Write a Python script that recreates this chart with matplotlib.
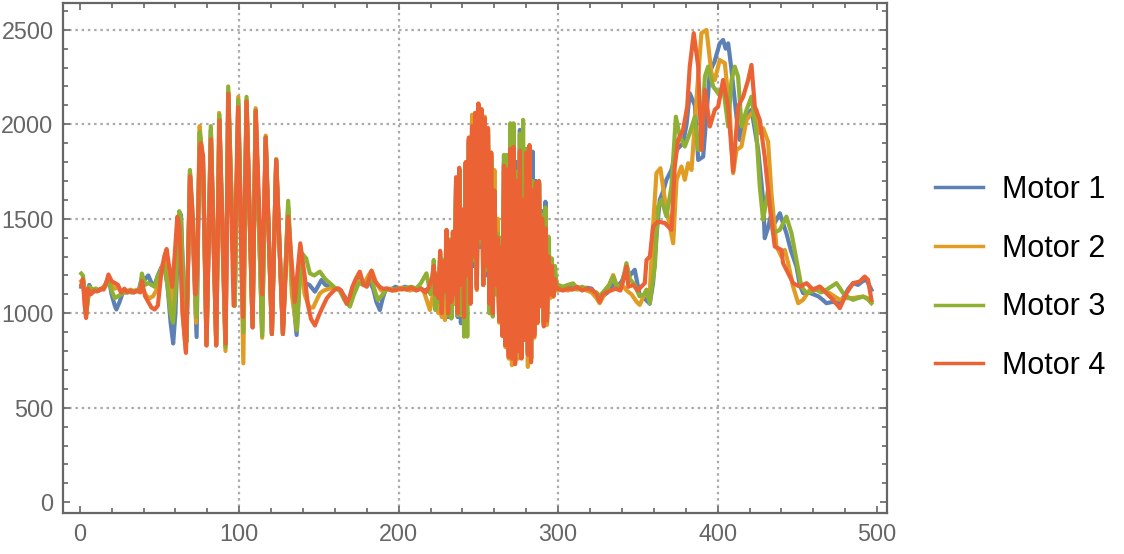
import matplotlib
matplotlib.use("Agg")
import matplotlib.pyplot as plt
from matplotlib.ticker import MultipleLocator

plt.rcParams["font.family"] = ["Liberation Sans", "DejaVu Sans"]

# readings (sample index, value)
motor1_pre = [
    (1, 1140), (2, 1180), (3, 1120), (4, 1000), (6, 1150), (8, 1110), (10, 1120), (12, 1120),
    (14, 1130), (16, 1150), (18, 1190), (20, 1100), (22, 1040), (23, 1020), (25, 1060), (27, 1110),
    (29, 1110), (31, 1120), (33, 1110), (35, 1120), (37, 1120), (39, 1190), (41, 1180), (43, 1200),
    (45, 1160), (47, 1150), (49, 1200), (51, 1240), (53, 1260), (55, 1150), (57, 950), (58.6, 840),
    (60, 1000), (62.4, 1535), (63.5, 1520), (65.5, 1050), (67, 870), (69.1, 1740), (71, 1400),
    (73.3, 874), (75.2, 1950), (77.3, 1800), (79.5, 830), (82.2, 1970), (85.6, 830), (87.6, 2030),
    (91.4, 830), (93.1, 2170), (97.2, 1040), (99.4, 2110), (102.6, 960), (104.6, 2120), (108.4, 925),
    (110.3, 2070), (114.4, 900), (116.6, 1930), (120.5, 890), (123.2, 1810), (127.4, 890),
    (130.7, 1560), (133, 1150), (136, 885), (138.5, 1300), (141, 1160), (144, 1150), (147.5, 1114),
    (151.6, 1176), (154, 1150), (157, 1141), (160, 1130), (163, 1125), (166, 1090), (168, 1060),
    (170, 1080), (172, 1150), (175, 1180), (178, 1150), (181, 1180), (184, 1130), (186, 1060),
    (188.2, 1017), (190, 1080), (192, 1130), (195, 1125), (198, 1140), (201, 1130), (204, 1140),
    (207, 1130), (210, 1125), (213, 1135), (216, 1120), (219, 1130), (221, 1150),
]
motor2_pre = [
    (1, 1170), (2, 1160), (3, 1100), (4, 990), (6, 1130), (8, 1120), (10, 1130), (12, 1120),
    (14, 1130), (16, 1150), (18, 1190), (20, 1150), (22, 1130), (24, 1140), (26, 1110), (28, 1120),
    (30, 1110), (32, 1125), (34, 1110), (36, 1120), (38, 1140), (40, 1120), (42, 1090), (44, 1080),
    (46, 1090), (48, 1120), (50, 1200), (52, 1260), (54, 1290), (56, 1200), (58, 1000), (60, 1250),
    (61.5, 1500), (62.5, 1490), (64.5, 1000), (66.6, 800), (69.2, 1740), (71, 1400), (73, 950),
    (75.2, 1990), (77.2, 1800), (79.5, 830), (82.3, 1960), (85.6, 830), (87.4, 2060), (91.4, 800),
    (93.2, 2170), (97.1, 1040), (99.4, 2145), (102.6, 735), (104.6, 2130), (108.4, 930),
    (110.3, 2085), (114.4, 870), (116.6, 1940), (120.5, 890), (123.2, 1815), (127.4, 895),
    (130.7, 1560), (133, 1100), (136, 920), (138.3, 1320), (141, 1100), (144, 1030), (146.4, 1030),
    (148, 1060), (150.6, 1105), (153, 1120), (157, 1132), (160, 1130), (163, 1125), (166, 1080),
    (168, 1050), (170, 1060), (172, 1140), (175, 1170), (178, 1150), (181, 1200), (183, 1225),
    (186, 1160), (189, 1120), (192, 1125), (195, 1130), (198, 1120), (201, 1135), (204, 1130),
    (207, 1120), (210, 1130), (213, 1140), (216, 1110), (219.6, 1017), (221, 1080),
]
motor3_pre = [
    (1, 1210), (2, 1200), (3, 1130), (4, 985), (6, 1140), (8, 1125), (10, 1130), (12, 1120),
    (14, 1130), (16, 1140), (18, 1180), (20, 1120), (22, 1080), (24, 1090), (26, 1100), (28, 1110),
    (30, 1120), (32, 1110), (34, 1120), (36, 1115), (38, 1130), (39, 1210), (41, 1150), (43, 1160),
    (45, 1150), (47, 1140), (49, 1200), (51, 1220), (53, 1250), (55, 1150), (57, 1000), (58.5, 950),
    (60, 1100), (62.4, 1540), (63.5, 1500), (65.5, 1000), (67, 850), (69.1, 1758), (71, 1500),
    (73.3, 980), (75.2, 1960), (77.3, 1800), (79.5, 840), (82.2, 1990), (85.6, 840), (87.6, 2050),
    (91.4, 820), (93.1, 2200), (97.2, 1040), (99.4, 2130), (102.6, 900), (104.6, 2145), (108.4, 930),
    (110.3, 2075), (114.4, 880), (116.6, 1930), (120.5, 890), (123.2, 1815), (127.4, 890),
    (130.7, 1595), (133, 1200), (136.2, 910), (139, 1320), (142, 1290), (144.3, 1211), (147, 1200),
    (150.6, 1220), (154, 1180), (157, 1158), (160, 1135), (163, 1120), (166, 1070), (169.4, 1035),
    (172, 1100), (175, 1160), (178, 1150), (181, 1170), (183, 1180), (185, 1120), (187, 1070),
    (190, 1100), (193, 1130), (196, 1120), (199, 1130), (202, 1125), (205, 1135), (208, 1140),
    (211, 1130), (214, 1160), (217.4, 1211), (220, 1100), (221, 1150),
]
motor4_pre = [
    (1, 1150), (2, 1180), (3, 1050), (4, 975), (5, 1130), (7, 1100), (9, 1120), (11, 1115),
    (13, 1130), (15, 1125), (17, 1170), (18, 1205), (20, 1170), (22, 1160), (24, 1150), (26, 1110),
    (28, 1130), (30, 1110), (32, 1120), (34, 1110), (36, 1120), (38, 1110), (39, 1170), (41, 1090),
    (43, 1060), (45, 1030), (47, 1020), (49, 1040), (51, 1200), (53, 1300), (54.5, 1340), (56, 1250),
    (58, 1140), (59.5, 1300), (61.2, 1510), (62.5, 1460), (64.5, 1000), (66.6, 790), (69.2, 1725),
    (70.5, 1560), (72.5, 1100), (73.5, 1200), (75.2, 1870), (76, 1900), (77.4, 1830), (79.5, 830),
    (82.3, 1920), (85.6, 830), (87.6, 2020), (91.5, 840), (93.2, 2160), (96.5, 1040), (99.3, 2090),
    (102.3, 980), (104.6, 2120), (108.4, 925), (110.4, 2070), (114.4, 1100), (116.6, 1930),
    (120.5, 890), (123.2, 1810), (127.4, 890), (130.7, 1510), (134.8, 1060), (138.3, 1370),
    (141, 1200), (143, 1050), (145, 970), (147.5, 935), (150, 990), (152.7, 1040), (155, 1080),
    (157, 1100), (160, 1125), (162, 1132), (164, 1120), (166, 1080), (167.3, 1050), (169, 1080),
    (171, 1140), (173, 1180), (175.6, 1220), (178, 1150), (180, 1140), (183, 1225), (185, 1170),
    (188, 1140), (190, 1130), (193, 1130), (196, 1120), (199, 1125), (202, 1130), (205, 1125),
    (208, 1135), (211, 1120), (214, 1130), (217, 1110), (219, 1140), (221, 1190),
]

# dense part, one reading per sample 222..299
burst_x = list(range(222, 300))
motor1_burst = [
    1150, 1120, 1180, 1050, 1300, 1000, 1250, 1080, 1400, 980,
    1350, 973, 1400, 1050, 1700, 980, 1750, 947, 1520, 1000,
    1780, 1150, 1900, 1053, 1950, 1250, 2030, 1150, 2080, 1350,
    2050, 1150, 2000, 1200, 1950, 1050, 1800, 1000, 1600, 1150,
    1400, 980, 1380, 900, 1800, 850, 1780, 800, 1880, 780,
    1900, 760, 1800, 820, 1970, 780, 1650, 880, 1860, 800,
    1880, 760, 1855, 900, 1700, 960, 1690, 1050, 1540, 950,
    1590, 980, 1350, 1110, 1280, 1100, 1200, 1140,
]
motor2_burst = [
    1100, 1050, 1150, 1000, 1250, 980, 1200, 964, 1380, 1000,
    1350, 1020, 1400, 1050, 1700, 1000, 1760, 990, 1530, 1000,
    1790, 1150, 1920, 1100, 2050, 1300, 2060, 1123, 2090, 1400,
    2076, 1150, 2040, 1250, 1950, 1000, 1850, 1000, 1758, 1100,
    1500, 950, 1350, 880, 1750, 820, 1740, 760, 1850, 725,
    1860, 740, 1700, 760, 1850, 780, 1600, 860, 1840, 716,
    1870, 760, 1640, 870, 1680, 947, 1690, 1035, 1480, 950,
    1440, 938, 1300, 1080, 1240, 1087, 1170, 1120,
]
motor3_burst = [
    1282, 1017, 1210, 1060, 1320, 1010, 1280, 1100, 1441, 990,
    1390, 973, 1432, 1080, 1710, 990, 1760, 1000, 1540, 876,
    1790, 876, 1910, 1100, 1980, 1280, 2040, 1140, 2090, 1380,
    2060, 1160, 2020, 1230, 1970, 1000, 1830, 982, 1640, 1100,
    1420, 964, 1400, 900, 1838, 860, 1838, 800, 2005, 780,
    2005, 760, 1750, 800, 1950, 858, 2023, 860, 1870, 790,
    1870, 760, 1700, 890, 1690, 960, 1680, 1050, 1520, 940,
    1560, 970, 1405, 1120, 1290, 1100, 1250, 1150,
]
motor4_burst = [
    1250, 1100, 1200, 1080, 1330, 1000, 1270, 1120, 1440, 1000,
    1380, 1060, 1430, 1100, 1720, 1000, 1770, 1150, 1550, 980,
    1800, 1200, 1930, 1050, 1990, 1300, 2060, 1130, 2110, 1400,
    2080, 1150, 2030, 1250, 1980, 1050, 1850, 1000, 1650, 1150,
    1400, 960, 1350, 880, 1780, 830, 1760, 770, 1870, 760,
    1880, 730, 1700, 800, 1860, 760, 1600, 860, 1850, 780,
    1890, 740, 1650, 880, 1690, 950, 1700, 1040, 1500, 930,
    1450, 960, 1300, 1100, 1250, 1090, 1180, 1130,
]

motor1_post = [
    (300, 1140), (303, 1130), (306, 1135), (309, 1140), (312, 1130), (315, 1125), (318, 1135),
    (321, 1130), (324, 1090), (326, 1070), (328, 1090), (331, 1110), (334, 1150), (337, 1140),
    (340, 1170), (342.8, 1240), (345, 1200), (348, 1230), (351, 1100), (354, 1080), (357.4, 1050),
    (359.5, 1159), (361.5, 1400), (363.7, 1600), (366, 1650), (367.9, 1706), (371, 1758),
    (374.2, 1864), (378.3, 1900), (380.5, 2000), (382.5, 2164), (385.7, 2100), (387.8, 1811),
    (390.9, 1828), (393, 2050), (395.1, 2280), (398, 2330), (401.3, 2428), (403.4, 2446),
    (405, 2400), (406.6, 2428), (408.5, 2300), (411.8, 2040), (413.9, 1917), (417, 2040),
    (421.2, 2076), (425.4, 1864), (428.5, 1600), (429.5, 1397), (431.5, 1450), (433.7, 1529),
    (436, 1480), (439, 1529), (443.1, 1423), (446, 1330), (449.4, 1247), (451.5, 1150),
    (453.6, 1106), (457, 1110), (460, 1100), (463, 1090), (466, 1070), (468.2, 1053), (472, 1060),
    (476.6, 1053), (480, 1100), (482, 1130), (484.9, 1159), (488, 1150), (491, 1170),
    (493.3, 1177), (496.4, 1124),
]
motor2_post = [
    (300, 1120), (303, 1130), (306, 1120), (309, 1130), (312, 1125), (315, 1135), (318, 1120),
    (321, 1110), (324, 1080), (326, 1053), (329, 1100), (332, 1150), (334.5, 1202), (337, 1140),
    (340, 1150), (343, 1120), (346, 1100), (349.1, 1061), (351.2, 1044), (354, 1100),
    (355.4, 1124), (357.4, 1106), (359.5, 1459), (361.6, 1741), (364.1, 1767), (366.9, 1600),
    (370, 1459), (372.1, 1370), (374.2, 1706), (377.3, 1776), (379.4, 1706), (381.5, 1794),
    (383.6, 1758), (386.7, 2128), (389.8, 2482), (393, 2499), (396.1, 2270), (398.2, 2234),
    (401.3, 2340), (404.5, 2323), (407.6, 2058), (409.7, 1741), (411.8, 1864), (414.9, 1882),
    (418.1, 2023), (421.2, 2058), (424.3, 2076), (426.4, 1953), (428.5, 1979), (431.6, 1908),
    (433.7, 1635), (436.9, 1353), (440, 1300), (442.1, 1335), (444.2, 1265), (447.3, 1141),
    (450.5, 1053), (453.6, 1071), (457.8, 1124), (461, 1130), (464, 1141), (467, 1120),
    (470.3, 1106), (473, 1090), (476.6, 1071), (480, 1080), (484.9, 1080), (488, 1085),
    (491.2, 1088), (494, 1080), (496.4, 1062),
]
motor3_post = [
    (300, 1150), (303, 1140), (306, 1150), (309.4, 1158), (312, 1130), (315, 1140), (318, 1130),
    (321, 1120), (324, 1110), (326, 1090), (329, 1120), (332, 1150), (334.5, 1194), (337, 1130),
    (340, 1150), (342.8, 1265), (345, 1180), (348, 1150), (351, 1090), (354, 1100), (355.4, 1124),
    (357.4, 1053), (360.6, 1247), (362.7, 1565), (364.8, 1600), (367.9, 1512), (371, 1670),
    (373.8, 2040), (376.3, 1935), (379.4, 1882), (382.5, 1953), (385.7, 2040), (387.8, 1864),
    (389.8, 1953), (392, 2252), (394, 2305), (397.2, 2199), (400.3, 2164), (403.4, 2199),
    (406.6, 1988), (408.7, 2234), (410.7, 2305), (412.8, 2252), (415, 1988), (418.1, 2076),
    (421.2, 2146), (424.3, 1953), (426.4, 1670), (428.5, 1494), (431.6, 1653), (434.8, 1423),
    (439, 1441), (443.1, 1511), (446.3, 1423), (449.4, 1282), (452.5, 1141), (455.7, 1106),
    (458.8, 1115), (461.9, 1124), (465, 1110), (468.2, 1124), (471, 1140), (474.5, 1159),
    (478.7, 1106), (481.8, 1085), (484.9, 1071), (488, 1080), (491.2, 1088), (494, 1075),
    (496.4, 1053),
]
motor4_post = [
    (300, 1130), (303, 1120), (306, 1130), (309, 1125), (312, 1140), (315, 1120), (318, 1130),
    (321, 1125), (324, 1100), (326, 1060), (328, 1100), (330, 1110), (333, 1120), (336, 1130),
    (339, 1120), (341, 1180), (342.8, 1247), (344, 1140), (347, 1150), (350, 1120), (352, 1140),
    (354.3, 1159), (355.4, 1282), (357.5, 1300), (359.5, 1459), (362.7, 1485), (366.9, 1477),
    (371, 1441), (373.1, 1776), (375.2, 1917), (378.3, 1970), (380.9, 2093), (382.5, 2305),
    (385, 2482), (387.8, 2305), (389.8, 1864), (392, 2181), (395.1, 1988), (398.2, 2076),
    (400.3, 2093), (403.4, 2234), (406.6, 2093), (409.7, 1750), (412.8, 2093), (416, 2146),
    (419.1, 2234), (421.2, 2314), (423.3, 2093), (426.4, 2023), (429.5, 1828), (432.7, 1564),
    (435.8, 1353), (440, 1335), (441, 1265), (444.2, 1212), (447.3, 1159), (451.5, 1141),
    (455.7, 1159), (459.9, 1124), (464, 1141), (468.2, 1106), (472.4, 1071), (476.6, 1027),
    (480.8, 1106), (484.9, 1159), (489.1, 1168), (492.2, 1194), (494.3, 1177), (496.4, 1071),
]

labels = ["Motor 1", "Motor 2", "Motor 3", "Motor 4"]
colors = ["#5E81B5", "#E19C24", "#8FB032", "#EB6235"]
x_ticks = [0, 100, 200, 300, 400, 500]
y_ticks = [0, 500, 1000, 1500, 2000, 2500]
x_grid = [100, 200, 300, 400]
y_grid = [500, 1000, 1500, 2000, 2500]


def join_series(pre, burst, post):
    xs = [p[0] for p in pre] + burst_x + [p[0] for p in post]
    ys = [p[1] for p in pre] + burst + [p[1] for p in post]
    return xs, ys


series = [
    join_series(motor1_pre, motor1_burst, motor1_post),
    join_series(motor2_pre, motor2_burst, motor2_post),
    join_series(motor3_pre, motor3_burst, motor3_post),
    join_series(motor4_pre, motor4_burst, motor4_post),
]

fig = plt.figure(figsize=(11.24, 5.54), dpi=100)
ax = fig.add_axes([0.0563, 0.074, 0.7326, 0.9211])

grid_style = dict(color="#aaaaaa", lw=1.6, linestyle=(0, (1.1, 1.7)), zorder=1)
for gx in x_grid:
    ax.axvline(gx, **grid_style)
for gy in y_grid:
    ax.axhline(gy, **grid_style)

handles = []
for (xs, ys), lab, col in zip(series, labels, colors):
    ln, = ax.plot(xs, ys, color=col, lw=3.0, label=lab, zorder=3)
    handles.append(ln)

ax.set_xlim(-10.3, 506)
ax.set_ylim(-57, 2643)
ax.set_xticks(x_ticks)
ax.set_yticks(y_ticks)
ax.xaxis.set_minor_locator(MultipleLocator(20))
ax.yaxis.set_minor_locator(MultipleLocator(100))

frame_col = "#666666"
for sp in ax.spines.values():
    sp.set_color(frame_col)
    sp.set_linewidth(1.6)
ax.tick_params(which="both", direction="in", top=True, right=True, color=frame_col, width=1.2)
ax.tick_params(which="major", length=5.2)
ax.tick_params(which="minor", length=3.3)
ax.tick_params(axis="both", labelsize=16.8, labelcolor="#666666")
ax.tick_params(axis="x", pad=7.5)
ax.tick_params(axis="y", pad=7)

leg = fig.legend(
    handles=handles, labels=labels,
    loc="center left", bbox_to_anchor=(0.8319, 0.4982),
    bbox_transform=fig.transFigure,
    frameon=False, fontsize=22, handlelength=1.57, handletextpad=0.62,
    labelspacing=0.94, borderpad=0, borderaxespad=0,
)
for h in leg.get_lines():
    h.set_linewidth(2.5)

fig.savefig("out.png", dpi=100)
plt.close(fig)
